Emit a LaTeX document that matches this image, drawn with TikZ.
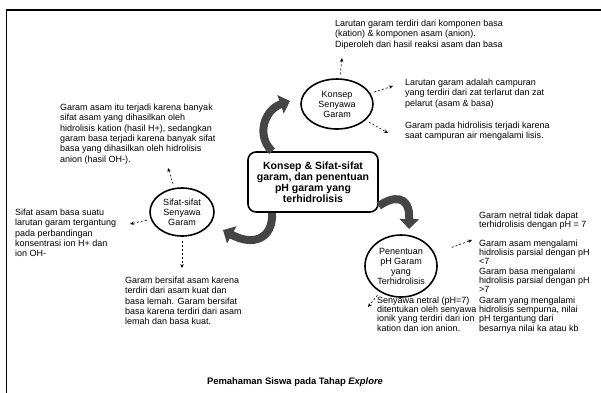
\documentclass[tikz,border=0pt]{standalone}
\usepackage{fontspec}
\setmainfont{Liberation Sans}
\usetikzlibrary{arrows.meta,shapes.geometric}

\begin{document}
\begin{tikzpicture}[x=1pt,y=-1pt,
	note/.style={anchor=north west,align=left,inner sep=0pt,font=\fontsize{9}{10.4}\selectfont},
	tightnote/.style={note,font=\fontsize{9}{9.3}\selectfont},
	topic/.style={ellipse,draw,line width=1.6pt,align=center,inner sep=0pt,font=\fontsize{9}{10}\selectfont},
	hub/.style={draw,line width=1.6pt,rounded corners=8pt,align=center,minimum width=130pt,minimum height=60pt,font=\bfseries\fontsize{10.5}{11}\selectfont},
	dasharrow/.style={dash pattern=on 2pt off 2pt,line width=0.6pt,-{Stealth[length=4pt,width=3.5pt]},shorten <=4pt},
	bigarrow/.style={line width=8pt,draw=arrowgray,-{Triangle[length=10pt,width=19pt]}}
]

	% Define colors
	\definecolor{arrowgray}{rgb}{0.27, 0.27, 0.27}

	% Fix the page size
	\useasboundingbox (0,0) rectangle (601,392);

	% Draw the frame (its right and bottom sides lie off the page)
	\draw[line width=1.6pt] (6.5,10) rectangle (610,400);

	% Draw the centre box and the three topics
	\node[hub] (main) at (313,182) {Konsep \& Sifat-sifat\\garam, dan penentuan\\pH garam yang\\terhidrolisis};
	\node[topic,minimum width=72pt,minimum height=50pt] (konsep) at (337,104) {Konsep\\Senyawa\\Garam};
	\node[topic,minimum width=64pt,minimum height=48pt] (sifat) at (182,212) {Sifat-sifat\\Senyawa\\Garam};
	\node[topic,minimum width=72pt,minimum height=62pt] (penentuan) at (401,266) {Penentuan\\pH Garam\\yang\\Terhidrolisis};

	% Draw the notes
	\node[note] (komponen) at (335,19.5) {Larutan garam terdiri dari komponen basa\\(kation) \& komponen asam (anion).\\Diperoleh dari hasil reaksi asam dan basa};
	\node[note] (campuran) at (405,78.5) {Larutan garam adalah campuran\\yang terdiri dari zat terlarut dan zat\\pelarut (asam \& basa)};
	\node[note] (lisis) at (405,121.5) {Garam pada hidrolisis terjadi karena\\saat campuran air mengalami lisis.};
	\node[note] (hasil) at (60,103.5) {Garam asam itu terjadi karena banyak\\sifat asam yang dihasilkan oleh\\hidrolisis kation (hasil H+), sedangkan\\garam basa terjadi karena banyak sifat\\basa yang dihasilkan oleh hidrolisis\\anion (hasil OH-).};
	\node[note] (konsentrasi) at (15,208.5) {Sifat asam basa suatu\\larutan garam tergantung\\pada perbandingan\\konsentrasi ion H+ dan\\ion OH-};
	\node[note] (kuat) at (125,276.5) {Garam bersifat asam karena\\terdiri dari asam kuat dan\\basa lemah. Garam bersifat\\basa karena terdiri dari asam\\lemah dan basa kuat.};
	\node[tightnote] (netral) at (479,211.5) {Garam netral tidak dapat\\terhidrolisis dengan pH = 7};
	\node[tightnote] (asamph) at (479,239.5) {Garam asam mengalami\\hidrolisis parsial dengan pH\\<7};
	\node[tightnote] (basaph) at (479,267.5) {Garam basa mengalami\\hidrolisis parsial dengan pH\\>7};
	\node[tightnote] (sempurna) at (479,296.5) {Garam yang mengalami\\hidrolisis sempurna, nilai\\pH tergantung dari\\besarnya nilai ka atau kb};
	\node[tightnote] (ionik) at (377,296.5) {Senyawa netral (pH=7)\\ditentukan oleh senyawa\\ionik yang terdiri dari ion\\kation dan ion anion.};

	% Draw the caption
	\node[font=\bfseries\fontsize{9.4}{11}\selectfont] (caption) at (295,382) {Pemahaman Siswa pada Tahap \textit{Explore}};

	% Draw the dashed arrows
	\coordinate (k1) at (342,58);
	\coordinate (k2) at (393,86);
	\coordinate (k3) at (388,133);
	\coordinate (s1) at (168,168);
	\coordinate (s2) at (130,224);
	\coordinate (s3) at (182,268);
	\coordinate (p1) at (472,240);
	\coordinate (p2) at (368,307);
	\foreach \a/\b in {konsep/k1, konsep/k2, konsep/k3, sifat/s1, sifat/s2, sifat/s3, penentuan/p2} {
		\draw[dasharrow] (\a) -- (\b);
	}
	\draw[dasharrow,shorten <=18pt] (penentuan) -- (p1);

	% Draw the curved arrows
	\coordinate (ka) at (290,101);
	\coordinate (sa) at (223,230);
	\coordinate (pa) at (409,229);
	\draw[bigarrow] (main.143) .. controls (256,136) and (264,110) .. (ka);
	\draw[bigarrow] (main.217) .. controls (273,240) and (252,246) .. (sa);
	\draw[bigarrow] (main.340) .. controls (393,196) and (410,194) .. (pa);

\end{tikzpicture}
\end{document}
